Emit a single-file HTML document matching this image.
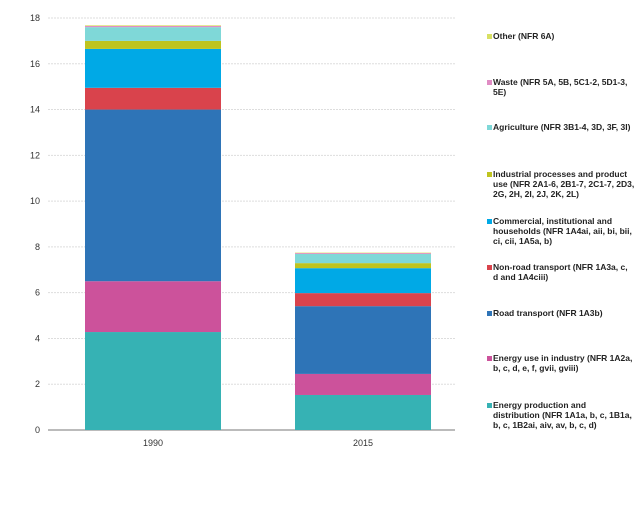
<!DOCTYPE html>
<html><head><meta charset="utf-8"><style>
body{margin:0;width:640px;height:529px;background:#fff;font-family:"Liberation Sans",sans-serif;overflow:hidden;position:relative}
.leg{position:absolute;left:487px;width:153px;font-size:8.5px;line-height:10px;font-weight:bold;color:#222}
.leg i{position:absolute;left:0;top:3px;width:5px;height:5px}
.leg span{display:block;margin-left:6px;width:142px}
</style></head><body>
<svg id="chart" width="480" height="529" style="position:absolute;left:0;top:0"></svg>
<div id="legend"></div>
<script>
const categories=["1990","2015"];
const seriesNames=["Energy production and distribution (NFR 1A1a, b, c, 1B1a, b, c, 1B2ai, aiv, av, b, c, d)","Energy use in industry (NFR 1A2a, b, c, d, e, f, gvii, gviii)","Road transport (NFR 1A3b)","Non-road transport (NFR 1A3a, c, d and 1A4ciii)","Commercial, institutional and households (NFR 1A4ai, aii, bi, bii, ci, cii, 1A5a, b)","Industrial processes and product use (NFR 2A1-6, 2B1-7, 2C1-7, 2D3, 2G, 2H, 2I, 2J, 2K, 2L)","Agriculture (NFR 3B1-4, 3D, 3F, 3I)","Waste (NFR 5A, 5B, 5C1-2, 5D1-3, 5E)","Other (NFR 6A)"];
const colors=["#36b2b4","#cc529b","#2e74b7","#d9434c","#00a9e6","#bfc41f","#7fd8d8","#e08cc4","#d8e063"];
const energyProd=[4.28,1.53];
const energyInd=[2.22,0.92];
const road=[7.5,2.96];
const nonRoad=[0.95,0.57];
const commercial=[1.7,1.09];
const industrial=[0.35,0.22];
const agriculture=[0.6,0.4];
const waste=[0.05,0.04];
const other=[0.03,0.02];
const series=[energyProd,energyInd,road,nonRoad,commercial,industrial,agriculture,waste,other];
const yTicks=[0,2,4,6,8,10,12,14,16,18];
const legendY=[405,358,313,267,221,174,127,82,36];
const NS="http://www.w3.org/2000/svg";
const svg=document.getElementById('chart');
const y=v=>430-v*(412/18);
const x0=48,x1=455,band=210,bw=136;
const bx=i=>x0+band*i+(band-bw)/2;
function mk(t,a){const e=document.createElementNS(NS,t);for(const k in a)e.setAttribute(k,a[k]);svg.appendChild(e);return e;}
yTicks.forEach(t=>{
 const l=mk('line',{x1:x0,x2:x1,y1:y(t),y2:y(t),stroke:t?'#ddd':'#bbb','stroke-width':t?1:2,'stroke-dasharray':t?'2,1':''});
 
 
 const tx=mk('text',{x:40,y:y(t)+3,'text-anchor':'end','font-size':9,fill:'#333'});tx.textContent=t;
 
 
});
categories.forEach((c,i)=>{
 let acc=0;
 series.forEach((s,k)=>{
  const r=mk('rect',{x:bx(i),y:y(acc+s[i]),width:bw,height:y(acc)-y(acc+s[i]),fill:colors[k]});
  
  
  acc+=s[i];
 });
 const tx=mk('text',{x:bx(i)+bw/2,y:446,'text-anchor':'middle','font-size':9,fill:'#333'});tx.textContent=c;
 
 
});
const lg=document.getElementById('legend');
seriesNames.forEach((n,k)=>{
 const d=document.createElement('div');d.className='leg';d.style.top=(legendY[k]-5)+'px';
 
 
 d.innerHTML='<i style="background:'+colors[k]+'"></i><span></span>';
 d.querySelector('span').textContent=n;
 lg.appendChild(d);
});
</script>
</body></html>
